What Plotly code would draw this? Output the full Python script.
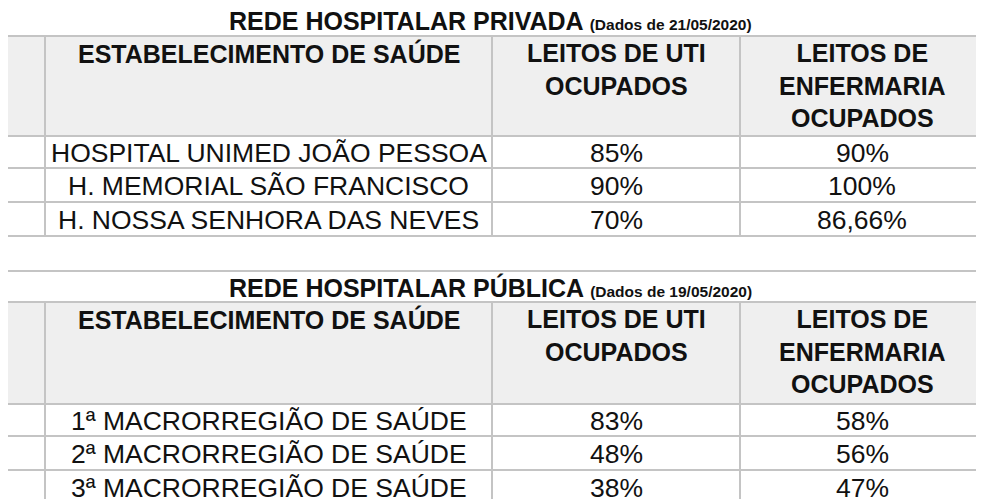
import plotly.graph_objects as go

# ---- data ----
titulos = ["REDE HOSPITALAR PRIVADA", "REDE HOSPITALAR PÚBLICA"]
datas = ["(Dados de 21/05/2020)", "(Dados de 19/05/2020)"]
cabecalho = ["Nº", "ESTABELECIMENTO DE SAÚDE", "LEITOS DE UTI<br>OCUPADOS", "LEITOS DE<br>ENFERMARIA<br>OCUPADOS"]
numeros = ["01", "02", "03"]
privada_nomes = ["HOSPITAL UNIMED JOÃO PESSOA", "H. MEMORIAL SÃO FRANCISCO", "H. NOSSA SENHORA DAS NEVES"]
privada_uti = ["85%", "90%", "70%"]
privada_enf = ["90%", "100%", "86,66%"]
publica_nomes = ["1ª MACRORREGIÃO DE SAÚDE", "2ª MACRORREGIÃO DE SAÚDE", "3ª MACRORREGIÃO DE SAÚDE"]
publica_uti = ["83%", "48%", "38%"]
publica_enf = ["58%", "56%", "47%"]

# ---- layout ----
W, H = 984, 499
OFF = 8  # page body margin in the browser
cols = [0, 45, 492, 740, 984]
tabelas = [
    dict(top=3, title_h=33, head_h=100, row_h=[32, 34, 34],
         nomes=privada_nomes, uti=privada_uti, enf=privada_enf),
    dict(top=271, title_h=31, head_h=102, row_h=[32, 34, 34],
         nomes=publica_nomes, uti=publica_uti, enf=publica_enf),
]
line = "#c4c4c4"
fill_head = "#efefef"
font = "Liberation Sans, Arial, sans-serif"

fig = go.Figure()
shapes, ann = [], []

def rect(x0, y0, x1, y1, fill="white"):
    shapes.append(dict(type="rect", x0=x0, x1=x1, y0=y0, y1=y1, xref="x", yref="y",
                       fillcolor=fill, line=dict(color=line, width=2), layer="below"))

def txt(x, y, s, size=26.5, bold=False, xanchor="center", yanchor="middle"):
    ann.append(dict(x=x, y=y, xref="x", yref="y", text=f"<b>{s}</b>" if bold else s,
                    showarrow=False, xanchor=xanchor, yanchor=yanchor,
                    font=dict(family=font, size=size, color="#111111")))

for i, t in enumerate(tabelas):
    y = t["top"]
    # title row
    rect(-5, y, W + 5, y + t["title_h"])
    txt(490, y + t["title_h"] / 2 + 1,
        f"{titulos[i]} <span style='font-size:15.5px'>{datas[i]}</span>", size=25, bold=True)
    y += t["title_h"]
    # header row
    for c in range(4):
        rect(cols[c] if c else -5, y, cols[c + 1] if c < 3 else W + 5, y + t["head_h"], fill_head)
    txt(5, y + 2, cabecalho[0], size=25, bold=True, xanchor="left", yanchor="top")
    for c in range(1, 4):
        txt((cols[c] + cols[c + 1]) / 2, y + 1, cabecalho[c], size=25, bold=True, yanchor="top")
    y += t["head_h"]
    # data rows
    for r in range(3):
        h = t["row_h"][r]
        for c in range(4):
            rect(cols[c] if c else -5, y, cols[c + 1] if c < 3 else W + 5, y + h)
        ym = y + h / 2 + 1
        txt(5, ym, numeros[r], size=25, bold=True, xanchor="left")
        txt((cols[1] + cols[2]) / 2, ym, t["nomes"][r])
        txt((cols[2] + cols[3]) / 2, ym, t["uti"][r])
        txt((cols[3] + cols[4]) / 2, ym, t["enf"][r])
        y += h

fig.update_layout(
    width=W, height=H, margin=dict(l=0, r=0, t=0, b=0),
    paper_bgcolor="white", plot_bgcolor="white",
    shapes=shapes, annotations=ann, showlegend=False,
    xaxis=dict(range=[OFF, W + OFF], visible=False, fixedrange=True),
    yaxis=dict(range=[H + OFF, OFF], visible=False, fixedrange=True),
)
fig.write_html("out.html", config={"displayModeBar": False})
